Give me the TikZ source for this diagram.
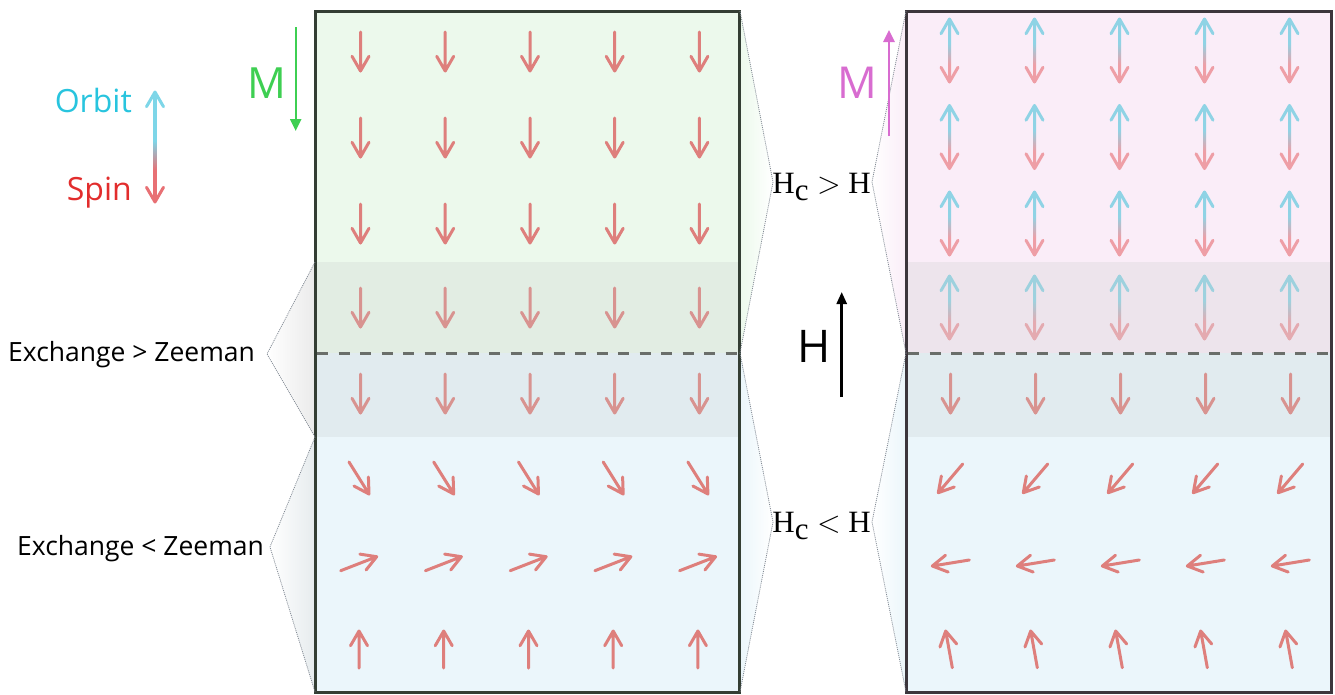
\documentclass[tikz,border=0pt]{standalone}
\usepackage{fontspec}
\setmainfont{Open Sans}
\newfontfamily\serifont{Liberation Serif}
\newfontfamily\lmr{Latin Modern Roman}
\usetikzlibrary{calc,arrows.meta}
\definecolor{sred}{RGB}{222,127,124}
\definecolor{obl}{RGB}{143,211,229}
\definecolor{spk}{RGB}{238,158,166}
\definecolor{oblL}{RGB}{126,214,232}
\definecolor{spkL}{RGB}{232,112,116}
\definecolor{grtop}{RGB}{236,249,236}
\definecolor{pktop}{RGB}{250,237,248}
\definecolor{bltop}{RGB}{235,246,251}
\definecolor{ovl}{RGB}{200,205,205}
\definecolor{frameL}{RGB}{52,62,52}
\definecolor{frameR}{RGB}{60,54,60}
\definecolor{mgreen}{RGB}{62,207,82}
\definecolor{mpink}{RGB}{216,108,208}
\definecolor{orbitc}{RGB}{40,196,222}
\definecolor{spinc}{RGB}{226,45,45}
\definecolor{dotc}{RGB}{130,138,148}
\definecolor{dashc}{RGB}{106,110,106}
\pgfdeclareverticalshading{orbspin}{100bp}{color(0bp)=(spk); color(25bp)=(spk); color(38bp)=(spk); color(56bp)=(obl); color(75bp)=(obl); color(100bp)=(obl)}
\pgfdeclareverticalshading{orbspinL}{100bp}{color(0bp)=(spkL); color(25bp)=(spkL); color(39bp)=(spkL); color(53bp)=(oblL); color(75bp)=(oblL); color(100bp)=(oblL)}
\tikzset{
  arw/.style={line width=3pt, line cap=round, line join=round},
  dotl/.style={dotc, line width=0.8pt, dash pattern=on 1pt off 1pt},
  lbl/.style={inner sep=0pt},
}
\newcommand\spinar[3][sred]{%
  \draw[arw,#1] #2 -- #3 ($#3!17pt!30:#2$) -- #3 -- ($#3!17pt!-30:#2$);}
\newcommand\dblar[6]{% x ytop ybot shading topcol botcol
  \shade[shading=#4] (#1-1.5,#2+2) rectangle (#1+1.5,#3-2);
  \draw[arw,#5] (#1-8.5,#2+14.7) -- (#1,#2) -- (#1+8.5,#2+14.7);
  \draw[arw,#6] (#1-8.5,#3-14.7) -- (#1,#3) -- (#1+8.5,#3-14.7);}
\begin{document}
\begin{tikzpicture}[x=1pt,y=-1pt]
\useasboundingbox (0,0) rectangle (1335,694);
% panel fills
\fill[grtop] (315,11) rectangle (740,353);
\fill[bltop] (315,353) rectangle (740,692);
\fill[pktop] (906,11) rectangle (1331,353);
\fill[bltop] (906,353) rectangle (1331,692);
% bracket gradient fills
\shade[left color=white, right color=gray!16] (315,262) -- (267,354) -- (315,437) -- cycle;
\shade[left color=white, right color=bltop!80!gray!60] (315,437) -- (270,547) -- (315,692) -- cycle;
\shade[left color=grtop, right color=white] (740,11) -- (773,182) -- (740,353) -- cycle;
\shade[left color=bltop, right color=white] (740,353) -- (773,522) -- (740,692) -- cycle;
\shade[left color=white, right color=pktop] (906,11) -- (872,182) -- (906,353) -- cycle;
\shade[left color=white, right color=bltop] (906,353) -- (872,522) -- (906,692) -- cycle;
% left panel spins
\foreach \x in {360.5,445.2,530,614.7,699.4}{
  \foreach \y in {32,118,204,288,374}{\spinar{(\x,\y)}{(\x,\y+39)}}
  \spinar{(\x-11.5,462)}{(\x+8.5,494)}
  \spinar{(\x-19.8,570.7)}{(\x+16.2,556.7)}
  \spinar{(\x-1.5,668)}{(\x-1.5,631)}
}
% right panel spins
\foreach \x in {949.5,1034.5,1119.5,1204.5,1289.5}{
  \foreach \y in {19,105.5,192,276}{\dblar{\x}{\y}{\y+63}{orbspin}{obl}{spk}}
  \spinar{(\x+1,374)}{(\x+1,413)}
  \spinar{(\x+13.2,464)}{(\x-11.2,492.7)}
  \spinar{(\x+19.8,560)}{(\x-17.2,566)}
  \spinar{(\x+2.8,667.7)}{(\x-3.8,631)}
}
% overlay band
\fill[ovl, opacity=0.26] (315,262) rectangle (740,437);
\fill[ovl, opacity=0.26] (906,262) rectangle (1331,437);
% dashed lines
\draw[dashc, line width=3pt, dash pattern=on 11pt off 10.5pt] (317,353) -- (739,353);
\draw[dashc, line width=3pt, dash pattern=on 11pt off 10.5pt] (908,353) -- (1330,353);
% frames
\draw[frameL, line width=3pt] (315.5,11.5) rectangle (739.5,692);
\draw[frameR, line width=3pt] (906.5,11.5) rectangle (1331.5,692);
% dotted brackets
\coordinate (exA) at (267,354);
\coordinate (exB) at (270,547);
\coordinate (hcA1) at (773,182);
\coordinate (hcA2) at (872,182);
\coordinate (hcB1) at (773,522);
\coordinate (hcB2) at (872,522);
\draw[dotl] (315,262) -- (exA) -- (315,437);
\draw[dotl] (315,437) -- (exB) -- (315,692);
\draw[dotl] (740,11) -- (hcA1) -- (740,353);
\draw[dotl] (740,353) -- (hcB1) -- (740,692);
\draw[dotl] (906,11) -- (hcA2) -- (906,353);
\draw[dotl] (906,353) -- (hcB2) -- (906,692);
% legend
\dblar{155}{92}{202}{orbspinL}{oblL}{spkL}
\node[lbl, anchor=base east, text=orbitc, font=\fontsize{32}{32}\selectfont] (orbit) at (132,112) {Orbit};
\node[lbl, anchor=base east, text=spinc, font=\fontsize{32}{32}\selectfont] (spin) at (132,200) {Spin};
% M arrows
\node[lbl, anchor=base west, text=mgreen, font=\fontsize{43}{43}\selectfont] (mg) at (247,98) {M};
\draw[mgreen, line width=2.2pt, -{Triangle[length=12pt,width=11pt]}] (295.7,27) -- (295.7,131);
\node[lbl, anchor=base west, text=mpink, font=\fontsize{44}{44}\selectfont] (mp) at (837,98) {M};
\draw[mpink, line width=2.6pt, -{Triangle[length=12pt,width=11pt]}] (889,136) -- (889,30);
% H arrow
\node[lbl, anchor=base west, font=\fontsize{45}{45}\selectfont] (hl) at (797,362) {H};
\draw[black, line width=2.6pt, -{Triangle[length=12pt,width=10pt]}] (841.7,397) -- (841.7,292);
% labels
\node[lbl, anchor=base west, font=\fontsize{26.5}{26.5}\selectfont] (ex1) at (8,361.5) {Exchange > Zeeman};
\node[lbl, anchor=base west, font=\fontsize{26.5}{26.5}\selectfont] (ex2) at (17,555) {Exchange < Zeeman};
\node[lbl, anchor=base, font=\serifont\fontsize{31}{31}\selectfont] (hc1) at (821.5,193) {H\raisebox{-7pt}{c}\hspace{0.28em}{\lmr >}\hspace{0.24em}H};
\node[lbl, anchor=base, font=\serifont\fontsize{31}{31}\selectfont] (hc2) at (821.5,532) {H\raisebox{-7pt}{c}\hspace{0.28em}{\lmr <}\hspace{0.24em}H};
\end{tikzpicture}
\end{document}
